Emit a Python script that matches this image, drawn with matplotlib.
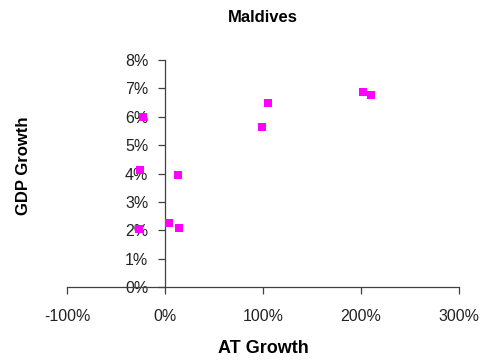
import matplotlib.pyplot as plt
from matplotlib.ticker import PercentFormatter

plt.rcParams['font.family'] = ['Liberation Sans', 'DejaVu Sans']
plt.rcParams['axes.unicode_minus'] = False

# AT growth vs GDP growth (fractions)
at_growth = [-0.22, -0.25, 0.13, -0.26, 0.044, 0.14, 0.99, 1.05, 2.02, 2.10]
gdp_growth = [0.060, 0.0412, 0.0394, 0.0204, 0.0224, 0.0209, 0.0564, 0.0647, 0.0688, 0.0676]

x_ticks = [-1, 0, 1, 2, 3]
y_ticks = [0, 0.01, 0.02, 0.03, 0.04, 0.05, 0.06, 0.07, 0.08]

fig = plt.figure(figsize=(4.82, 3.60), dpi=100)
ax = fig.add_axes([0.139, 0.203, 0.813, 0.630])

ax.scatter(at_growth, gdp_growth, marker='s', s=38, color='#FF00FF', zorder=3, linewidths=0)

ax.set_xlim(-1, 3)
ax.set_ylim(0, 0.08)
ax.set_xticks(x_ticks)
ax.set_yticks(y_ticks)
ax.xaxis.set_major_formatter(PercentFormatter(1.0, decimals=0))
ax.yaxis.set_major_formatter(PercentFormatter(1.0, decimals=0))

ax.spines['left'].set_position(('data', 0))
ax.spines['bottom'].set_position(('data', 0))
ax.spines['right'].set_visible(False)
ax.spines['top'].set_visible(False)
for sp in ('left', 'bottom'):
    ax.spines[sp].set_color('#404040')
    ax.spines[sp].set_linewidth(0.9)

ax.tick_params(axis='both', direction='out', length=5, width=0.9, color='#404040',
               labelsize=11.5, labelcolor='#222222')
ax.tick_params(axis='x', pad=11)
ax.tick_params(axis='y', pad=7)

fig.text(0.546, 0.951, 'Maldives', ha='center', va='center', fontsize=12, fontweight='bold')
fig.text(0.546, 0.033, 'AT Growth', ha='center', va='center', fontsize=13, fontweight='bold')
fig.text(0.048, 0.539, 'GDP Growth', ha='center', va='center', rotation=90, fontsize=12, fontweight='bold')

plt.savefig('out.png', dpi=100)
plt.close()
